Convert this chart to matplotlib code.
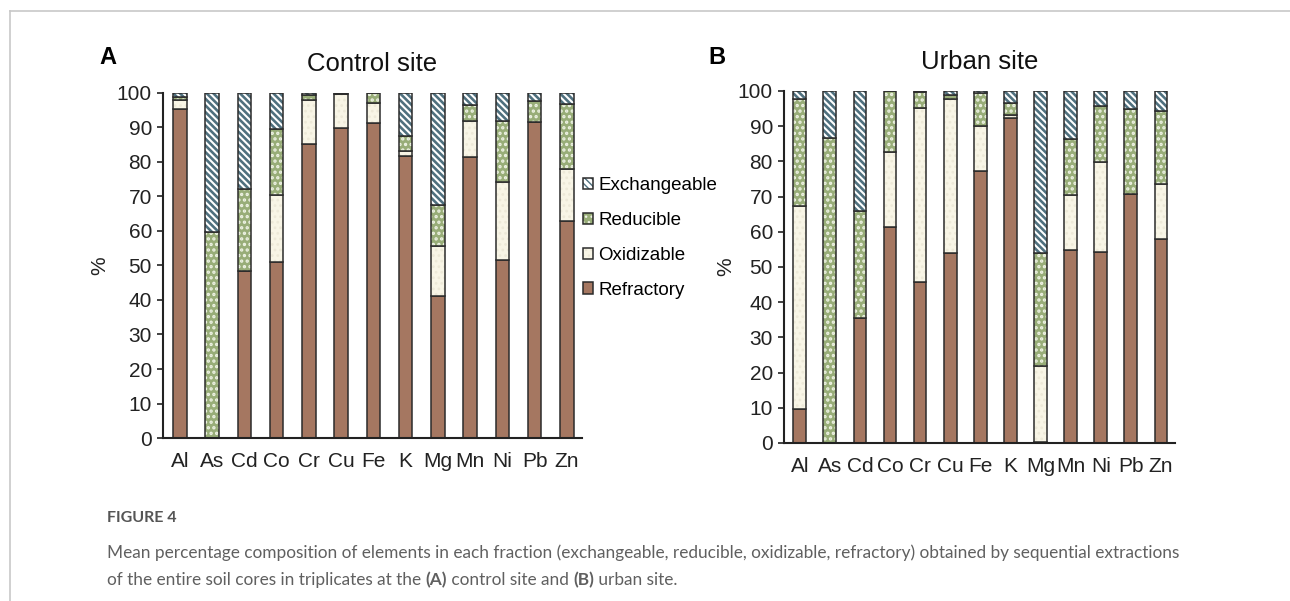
import matplotlib
matplotlib.use('Agg')
import matplotlib.pyplot as plt
import numpy as np
from matplotlib.patches import Patch
from matplotlib.legend_handler import HandlerTuple
from matplotlib.lines import Line2D

plt.rcParams['font.family'] = ['Liberation Sans', 'DejaVu Sans']

elements = ['Al', 'As', 'Cd', 'Co', 'Cr', 'Cu', 'Fe', 'K', 'Mg', 'Mn', 'Ni', 'Pb', 'Zn']
fractions = ['Exchangeable', 'Reducible', 'Oxidizable', 'Refractory']

# control site (%), bottom to top: refractory, oxidizable, reducible, exchangeable
control_refractory = [95.5, 0.0, 48.3, 51.0, 85.2, 89.9, 91.3, 81.8, 41.3, 81.4, 51.5, 91.5, 62.8]
control_oxidizable = [2.6, 0.0, 0.0, 19.5, 12.9, 9.8, 5.8, 1.5, 14.4, 10.6, 22.7, 0.0, 15.2]
control_reducible = [0.8, 59.7, 24.0, 19.2, 1.2, 0.0, 2.9, 4.1, 11.7, 4.4, 17.8, 6.1, 18.8]
control_exchangeable = [1.1, 40.3, 27.7, 10.3, 0.7, 0.3, 0.0, 12.6, 32.6, 3.6, 8.0, 2.4, 3.2]

# urban site (%)
urban_refractory = [9.6, 0.0, 35.5, 61.5, 45.6, 53.9, 77.3, 92.4, 0.3, 54.9, 54.4, 70.7, 58.0]
urban_oxidizable = [57.8, 0.0, 0.0, 21.1, 49.7, 43.7, 12.8, 0.7, 21.6, 15.6, 25.5, 0.0, 15.5]
urban_reducible = [30.2, 86.6, 30.3, 17.4, 4.3, 1.3, 9.4, 3.6, 32.0, 15.9, 15.7, 24.2, 20.8]
urban_exchangeable = [2.4, 13.4, 34.2, 0.0, 0.4, 1.1, 0.5, 3.3, 46.1, 13.6, 4.4, 5.1, 5.7]

# face colour, hatch, hatch colour, hatch line width
styles = {
    'Refractory': ('#a57761', None, '#a57761', 1.0),
    'Oxidizable': ('#f8f5e6', '...', '#ede9d8', 1.2),
    'Reducible': ('#98ad78', '...', '#eef2e4', 1.6),
    'Exchangeable': ('#ffffff', '\\\\\\\\\\', '#4f707e', 1.9),
}
edge = '#2b2b2b'
bar_w = 0.42


def stacked(ax, series, title):
    x = np.arange(len(elements))
    bottom = np.zeros(len(elements))
    for name in ['Refractory', 'Oxidizable', 'Reducible', 'Exchangeable']:
        vals = np.array(series[name])
        face, hatch, hcol, hlw = styles[name]
        plt.rcParams['hatch.linewidth'] = hlw
        ax.bar(x, vals, bar_w, bottom=bottom, color=face, hatch=hatch,
               edgecolor=hcol, linewidth=0)
        ax.bar(x, vals, bar_w, bottom=bottom, fill=False, edgecolor=edge,
               linewidth=1.1)
        bottom += vals
    ax.set_xlim(-0.52, 12.47)
    ax.set_ylim(0, 100)
    ax.set_yticks(np.arange(0, 101, 10))
    ax.set_xticks(x)
    ax.set_xticklabels(elements)
    ax.tick_params(axis='x', length=0, pad=10, labelsize=15, colors='#222222')
    ax.tick_params(axis='y', length=4, width=1.2, pad=4, labelsize=15, colors='#222222')
    for s in ['top', 'right']:
        ax.spines[s].set_visible(False)
    for s in ['left', 'bottom']:
        ax.spines[s].set_linewidth(1.5)
        ax.spines[s].set_color('#222222')
    ax.set_ylabel('%', fontsize=15, color='#222222', labelpad=2)
    ax.set_title(title, fontsize=18.5, color='#111111', pad=16)


fig = plt.figure(figsize=(12.9, 6.01), dpi=100)

axA = fig.add_axes([0.1264, 0.2712, 0.3248, 0.5741])
stacked(axA, {'Refractory': control_refractory, 'Oxidizable': control_oxidizable,
              'Reducible': control_reducible, 'Exchangeable': control_exchangeable},
        'Control site')

axB = fig.add_axes([0.6078, 0.2629, 0.3031, 0.5857])
stacked(axB, {'Refractory': urban_refractory, 'Oxidizable': urban_oxidizable,
              'Reducible': urban_reducible, 'Exchangeable': urban_exchangeable},
        'Urban site')

axA.yaxis.set_label_coords(-0.128, 0.5)
axB.yaxis.set_label_coords(-0.125, 0.5)

# legend
handles = []
for name in fractions:
    face, hatch, hcol, hlw = styles[name]
    plt.rcParams['hatch.linewidth'] = hlw
    handles.append((Patch(facecolor=face, hatch=hatch, edgecolor=hcol, linewidth=0),
                    Patch(fill=False, edgecolor=edge, linewidth=1.1)))
fig.legend(handles, fractions, loc='center left',
           bbox_to_anchor=(583 / 1290, 1 - 238 / 601), frameon=False,
           fontsize=13.5, handlelength=0.55, handleheight=0.55,
           handletextpad=0.25, labelspacing=0.95, borderpad=0, borderaxespad=0,
           handler_map={tuple: HandlerTuple(ndivide=1, pad=0)})

# panel letters
fig.text(108 / 1290, 1 - 57 / 601, 'A', fontsize=17, fontweight='bold', ha='center', va='center')
fig.text(717 / 1290, 1 - 57 / 601, 'B', fontsize=17, fontweight='bold', ha='center', va='center')

# page frame
fig.add_artist(Line2D([10 / 1290, 1], [1 - 11 / 601, 1 - 11 / 601], color='#c8c8c8', lw=1.2))
fig.add_artist(Line2D([10 / 1290, 10 / 1290], [0, 1 - 11 / 601], color='#c8c8c8', lw=1.2))

# caption
cap_font = ['Lato', 'DejaVu Sans']
cap_col = '#606060'
fig.text(107 / 1290, 1 - 518 / 601, 'FIGURE 4', fontsize=11.5, fontweight='bold',
         color='#555555', family=cap_font, va='center')
fig.text(107 / 1290, 1 - 553 / 601,
         'Mean percentage composition of elements in each fraction (exchangeable, reducible, '
         'oxidizable, refractory) obtained by sequential extractions',
         fontsize=12.4, color=cap_col, family=cap_font, va='center')

renderer = fig.canvas.get_renderer()
pieces = [('of the entire soil cores in triplicates at the ', 'normal'), ('(A)', 'bold'),
          (' control site and ', 'normal'), ('(B)', 'bold'), (' urban site.', 'normal')]
xpos = 107
for txt, wt in pieces:
    t = fig.text(xpos / 1290, 1 - 580 / 601, txt, fontsize=12.4, color=cap_col,
                 family=cap_font, fontweight=wt, va='center')
    bb = t.get_window_extent(renderer)
    xpos = bb.x1

fig.savefig('out.png', dpi=100)
